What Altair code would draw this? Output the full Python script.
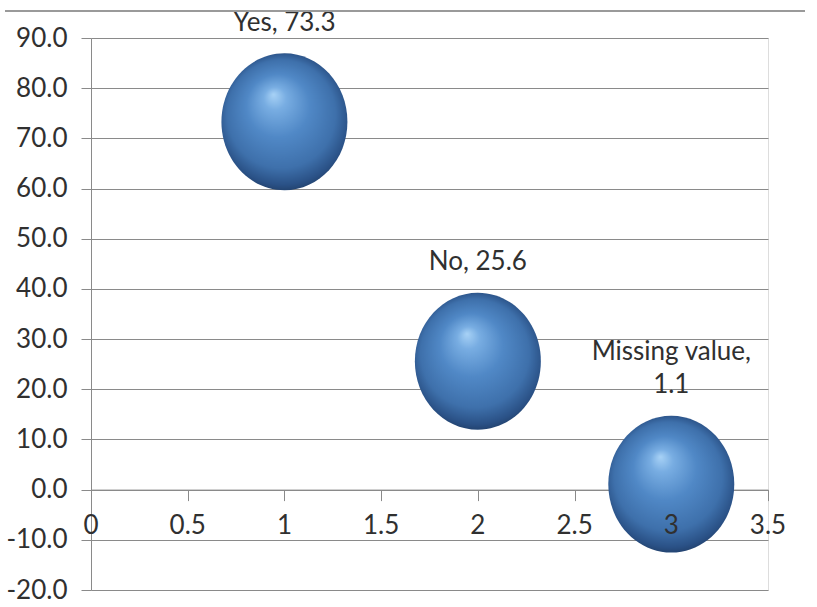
import altair as alt
import pandas as pd

# ---- data ----
categories = ["Yes", "No", "Missing value"]
x_vals = [1, 2, 3]
y_vals = [73.3, 25.6, 1.1]
point_labels = ["Yes, 73.3", "No, 25.6", "Missing value,\n1.1"]
x_ticks = [0, 0.5, 1, 1.5, 2, 2.5, 3, 3.5]
x_tick_labels = ["0", "0.5", "1", "1.5", "2", "2.5", "3", "3.5"]
y_ticks = [-20, -10, 0, 10, 20, 30, 40, 50, 60, 70, 80, 90]

df = pd.DataFrame({"category": categories, "x": x_vals, "y": y_vals, "label": point_labels})
tick_df = pd.DataFrame({"x": x_ticks, "label": x_tick_labels, "y": [0] * len(x_ticks)})

# one row per label line, counted from the bottom line (0) upward
rows = []
for xv, yv, lab in zip(x_vals, y_vals, point_labels):
    parts = lab.split("\n")
    for i, part in enumerate(parts):
        rows.append({"x": xv, "y": yv, "text": part, "k": len(parts) - 1 - i})
line_df = pd.DataFrame(rows)

FONT = "Lato"
TEXT = "#303030"
GRID = "#8a8a8a"
LINE_H = 33
LABEL_DY = -91

xs = alt.Scale(domain=[0, 3.5], nice=False, zero=False)
ys = alt.Scale(domain=[-20, 90], nice=False, zero=False)

ellipse = "M-1,0A1,1.087,0,1,1,1,0A1,1.087,0,1,1,-1,0Z"

sphere = alt.Gradient(
    gradient="radial",
    x1=0.42, y1=0.3, r1=0.0,
    x2=0.5, y2=0.5, r2=0.55,
    stops=[
        alt.GradientStop(color="#a8d2f6", offset=0.0),
        alt.GradientStop(color="#78ade2", offset=0.15),
        alt.GradientStop(color="#5088c6", offset=0.42),
        alt.GradientStop(color="#3e70ab", offset=0.72),
        alt.GradientStop(color="#2a5186", offset=0.88),
        alt.GradientStop(color="#1b3457", offset=1.0),
    ],
)

bubbles = alt.Chart(df).mark_point(
    shape=ellipse, size=15876, filled=True, fill=sphere, opacity=1, strokeWidth=0
).encode(
    x=alt.X("x:Q", scale=xs, axis=alt.Axis(
        values=x_ticks, labels=False, grid=False, offset=-100.4, tickSize=11,
        domainColor=GRID, tickColor=GRID, title=None)),
    y=alt.Y("y:Q", scale=ys, axis=alt.Axis(
        values=y_ticks, grid=True, gridColor=GRID, gridOpacity=1, tickSize=10,
        domainColor=GRID, tickColor=GRID, labelFont=FONT, labelFontSize=26,
        labelColor=TEXT, labelPadding=14, title=None,
        labelExpr="datum.value < 0 ? '-' + format(-datum.value, '.1f') : format(datum.value, '.1f')")),
)

def label_layer(k):
    return alt.Chart(line_df).transform_filter(f"datum.k == {k}").mark_text(
        baseline="alphabetic", dy=LABEL_DY - k * LINE_H, fontSize=26,
        font=FONT, color=TEXT
    ).encode(
        x=alt.X("x:Q", scale=xs), y=alt.Y("y:Q", scale=ys), text="text:N"
    )

labels0 = label_layer(0)
labels1 = label_layer(1)

xlabels = alt.Chart(tick_df).mark_text(
    baseline="top", dy=23, fontSize=26, font=FONT, color=TEXT
).encode(
    x=alt.X("x:Q", scale=xs), y=alt.Y("y:Q", scale=ys), text="label:N"
)

topline = alt.Chart(pd.DataFrame({"v": [0]})).mark_rule(
    color="#9a9a9a", strokeWidth=2
).encode(x=alt.value(-86), x2=alt.value(714), y=alt.value(-27))

chart = alt.layer(bubbles, labels0, labels1, xlabels, topline).properties(
    width=677, height=552,
    autosize=alt.AutoSizeParams(type="none"),
    padding={"left": 91, "top": 38, "right": 49, "bottom": 17},
).configure_view(stroke=None).configure(background="white")

chart.save("out.html", embed_options={"renderer": "svg", "actions": False})
